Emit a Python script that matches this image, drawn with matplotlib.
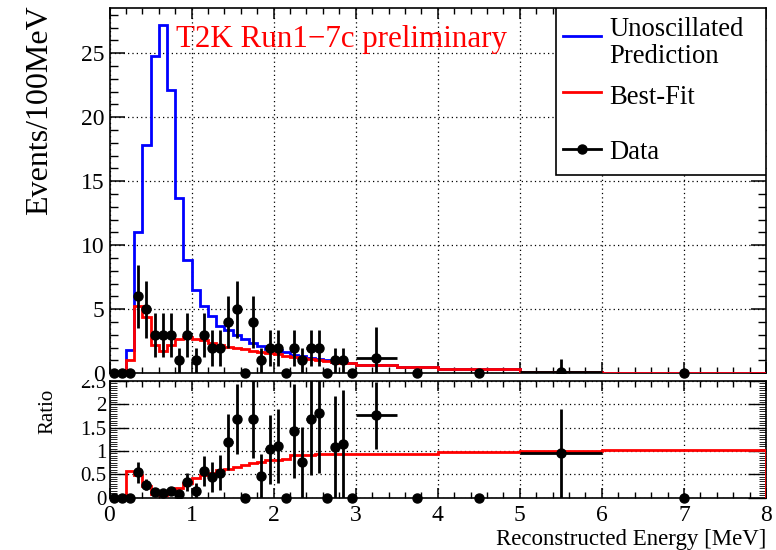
import numpy as np
import matplotlib
matplotlib.use("Agg")
import matplotlib.pyplot as plt
from matplotlib.lines import Line2D
from matplotlib.patches import Rectangle
from matplotlib.ticker import MultipleLocator

plt.rcParams['font.family'] = ['Liberation Serif', 'DejaVu Serif']

# bin edges [GeV]: 0.1 wide up to 3, then wider bins
edges = [0.0, 0.1, 0.2, 0.3, 0.4, 0.5, 0.6, 0.7, 0.8, 0.9,
         1.0, 1.1, 1.2, 1.3, 1.4, 1.5, 1.6, 1.7, 1.8, 1.9,
         2.0, 2.1, 2.2, 2.3, 2.4, 2.5, 2.6, 2.7, 2.8, 2.9,
         3.0, 3.5, 4.0, 5.0, 6.0, 8.0]

# unoscillated prediction (events / 100 MeV)
unosc = [0, 0, 1.85, 11.0, 17.8, 24.8, 27.2, 22.1, 13.7, 8.83,
         6.54, 5.26, 4.45, 3.72, 3.36, 2.97, 2.68, 2.37, 2.14, 1.93,
         1.80, 1.65, 1.40, 1.32, 1.18, 1.10, 1.03, 0.92, 0.87, 0.82,
         0.68, 0.52, 0.36, 0.105, 0.05]

# best fit (events / 100 MeV)
bestfit = [0, 0, 1.07, 5.26, 4.40, 2.19, 1.74, 2.19, 2.71, 2.84,
           2.70, 2.58, 2.40, 2.22, 2.08, 1.98, 1.86, 1.74, 1.64, 1.55,
           1.47, 1.38, 1.27, 1.20, 1.08, 1.02, 0.96, 0.86, 0.82, 0.77,
           0.63, 0.49, 0.35, 0.105, 0.051]

# observed events per bin (raw counts)
counts = [0, 0, 0, 6, 5, 3, 3, 3, 1, 3,
          1, 3, 2, 2, 4, 5, 0, 4, 1, 2,
          2, 0, 2, 1, 2, 2, 0, 1, 1, 0,
          6, 0, 0, 1, 0]

edges = np.array(edges)
unosc = np.array(unosc)
bestfit = np.array(bestfit)
counts = np.array(counts, dtype=float)

centers = 0.5 * (edges[:-1] + edges[1:])
halfw = 0.5 * (edges[1:] - edges[:-1])
nper100 = (edges[1:] - edges[:-1]) / 0.1
data = counts / nper100
err = np.sqrt(counts)

ratio = np.divide(data, unosc, out=np.zeros_like(data), where=unosc > 0)
ratio_err = np.divide(np.sqrt(counts) / nper100, unosc, out=np.zeros_like(data), where=unosc > 0)
ratio_fit = np.divide(bestfit, unosc, out=np.zeros_like(data), where=unosc > 0)

fig = plt.figure(figsize=(7.76, 5.5), dpi=100)
W, H = 776.0, 550.0
ax = fig.add_axes([109.5 / W, 1 - 373.3 / H, 656.5 / W, 365.0 / H])
axr = fig.add_axes([109.5 / W, 1 - 497.7 / H, 656.5 / W, 116.7 / H])
ax.set_zorder(2)
axr.set_zorder(0)
# white cover for the upper pad (hides top half of the ratio "2.5" label like ROOT)
fig.patches.append(Rectangle((0, 1 - 379.5 / H), 1, 379.5 / H, transform=fig.transFigure,
                             facecolor='white', edgecolor='none', zorder=1))

nz = counts > 0

# ---- upper panel
ax.stairs(unosc, edges, color='blue', lw=2, zorder=3)
ax.stairs(bestfit, edges, color='red', lw=2, zorder=4)
ax.errorbar(centers[nz], data[nz], yerr=[np.minimum(err[nz], data[nz]), err[nz]],
            xerr=halfw[nz], fmt='o', color='black', ms=6.5, elinewidth=2, capsize=0, zorder=5)
ax.plot(centers[~nz], data[~nz], 'o', color='black', ms=6.5, clip_on=False, zorder=5)

ax.set_xlim(0, 8)
ax.set_ylim(0, 28.5)
ax.xaxis.set_major_locator(MultipleLocator(1))
ax.xaxis.set_minor_locator(MultipleLocator(0.2))
ax.yaxis.set_major_locator(MultipleLocator(5))
ax.yaxis.set_minor_locator(MultipleLocator(1))
ax.tick_params(which='both', direction='in', top=True, right=True, labelbottom=False, labelsize=17)
ax.tick_params(axis='y', which='major', length=11, width=1.1)
ax.tick_params(axis='y', which='minor', length=5.5, width=1.0)
ax.tick_params(axis='x', which='major', length=8, width=1.1)
ax.tick_params(axis='x', which='minor', length=4, width=1.0)
ax.grid(True, which='major', color='black', lw=0.9, ls=(0, (1, 2.5)))
for s in ax.spines.values():
    s.set_linewidth(1.2)

ax.text(0.101, 0.895, 'T2K Run1\u22127c preliminary', color='red', fontsize=22.3,
        transform=ax.transAxes, va='baseline', ha='left', zorder=6)

# legend drawn by hand (ROOT TLegend look)
ax.add_patch(Rectangle((0.680, 0.543), 0.320, 0.457, transform=ax.transAxes,
                       facecolor='white', edgecolor='black', lw=1.2, zorder=7))
ax.add_line(Line2D([0.691, 0.749], [0.924, 0.924], color='blue', lw=2, transform=ax.transAxes, zorder=8))
ax.add_line(Line2D([0.691, 0.749], [0.772, 0.772], color='red', lw=2, transform=ax.transAxes, zorder=8))
ax.add_line(Line2D([0.691, 0.749], [0.614, 0.614], color='black', lw=2, transform=ax.transAxes, zorder=8))
ax.plot([0.72], [0.614], 'o', color='black', ms=6.5, transform=ax.transAxes, zorder=8)
for txt, yb in [('Unoscillated', 0.924), ('Prediction', 0.850), ('Best-Fit', 0.738), ('Data', 0.586)]:
    ax.text(0.761, yb, txt, fontsize=19.2, transform=ax.transAxes, va='baseline', ha='left', zorder=9)

# ---- ratio panel
axr.stairs(ratio_fit, edges, color='red', lw=2, zorder=3)
axr.errorbar(centers[nz], ratio[nz], yerr=[np.minimum(ratio_err[nz], ratio[nz]), ratio_err[nz]],
             xerr=halfw[nz], fmt='o', color='black', ms=6.5, elinewidth=2, capsize=0, zorder=5)
axr.plot(centers[~nz], ratio[~nz], 'o', color='black', ms=6.5, clip_on=False, zorder=5)
axr.set_xlim(0, 8)
axr.set_ylim(0, 2.5)
axr.xaxis.set_major_locator(MultipleLocator(1))
axr.xaxis.set_minor_locator(MultipleLocator(0.2))
axr.yaxis.set_minor_locator(MultipleLocator(0.05))
axr.set_yticks([0, 0.5, 1, 1.5, 2, 2.5])
axr.set_yticklabels(['0', '0.5', '1', '1.5', '2', '2.5'])
axr.tick_params(which='both', direction='in', top=True, right=True, labelsize=15)
axr.tick_params(axis='x', labelsize=17, pad=5)
axr.tick_params(axis='y', which='major', length=13, width=1.0, pad=2)
axr.tick_params(axis='y', which='minor', length=5, width=0.6)
axr.tick_params(axis='x', which='major', length=7, width=1.1)
axr.tick_params(axis='x', which='minor', length=4, width=1.0)
axr.grid(True, which='major', color='black', lw=0.9, ls=(0, (1, 2.5)))
for s in axr.spines.values():
    s.set_linewidth(1.2)

fig.text(40 / W, 1 - 110 / H, 'Events/100MeV', rotation=90, ha='center', va='center', fontsize=23)
fig.text(48 / W, 1 - 411 / H, 'Ratio', rotation=90, ha='center', va='center', fontsize=15)
fig.text(766 / W, 1 - 545 / H, 'Reconstructed Energy [MeV]', ha='right', va='baseline', fontsize=16.5)

fig.savefig('out.png', dpi=100)
